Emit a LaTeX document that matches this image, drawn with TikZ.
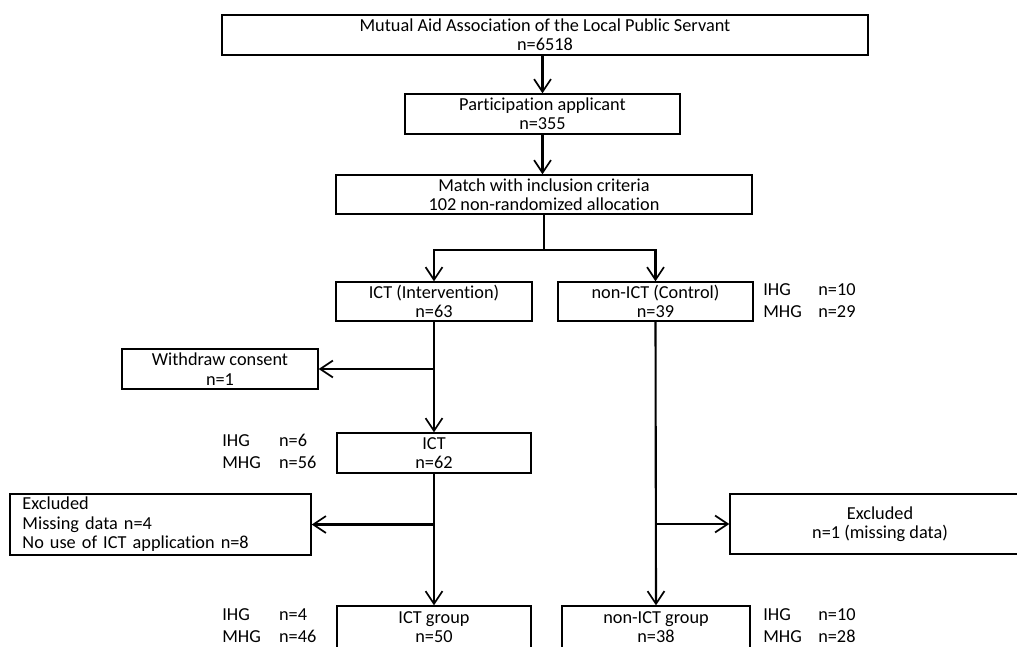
\documentclass[tikz,border=0pt]{standalone}
\usepackage{fontspec}
\setmainfont{Carlito}[RawFeature=-liga]
\usepackage{tikz}
\usetikzlibrary{arrows.meta}
\tikzset{box/.style={draw, line width=1pt, align=center, inner sep=2pt},
 arr/.style={line width=1.5pt, -{Straight Barb[length=9pt,width=12pt,line width=1.2pt]}},
 link/.style={line width=1.5pt},
 side/.style={inner sep=0pt, anchor=west},
 every node/.style={font=\fontsize{13}{13.8}\selectfont},
 }
\renewcommand{\arraystretch}{1.15}

\begin{document}
\begin{tikzpicture}[x=0.025cm,y=-0.025cm]
        \useasboundingbox (0,0) rectangle (1017,646);
        \clip (0,0) rectangle (1017,646);
        \node[box, minimum width=16.15cm, minimum height=1cm] (assoc) at (545,35) {Mutual Aid Association of the Local Public Servant\\n=6518};
        \node[box, minimum width=6.875cm, minimum height=1cm] (applicant) at (542.5,114) {Participation applicant\\n=355};
        \node[box, minimum width=10.4cm, minimum height=0.975cm] (match) at (544,194.5) {Match with inclusion criteria\\102 non-randomized allocation};
        \node[box, minimum width=4.9cm, minimum height=0.975cm] (interv) at (434,301.5) {ICT (Intervention)\\n=63};
        \node[box, minimum width=4.875cm, minimum height=0.975cm] (control) at (655.5,301.5) {non-ICT (Control)\\n=39};
        \node[box, minimum width=4.9cm, minimum height=1cm] (withdraw) at (220,369) {Withdraw consent\\n=1};
        \node[box, minimum width=4.85cm, minimum height=1cm] (ict) at (434,453) {ICT\\n=62};
        \node[box, minimum width=7.525cm, minimum height=1.525cm, align=left, text width=6.9cm] (exclL) at (160.5,524.5) {Excluded\\Missing data n=4\\No use of ICT application n=8};
        \node[box, minimum width=7.5cm, minimum height=1.5cm] (exclR) at (880,524) {Excluded\\n=1 (missing data)};
        \node[box, minimum width=4.85cm, minimum height=1.05cm] (ictgrp) at (434,627) {ICT group\\n=50};
        \node[box, minimum width=4.7cm, minimum height=1.05cm] (ctlgrp) at (656,627) {non-ICT group\\n=38};
        \node[side] (sideC) at (763,302) {\begin{tabular}{@{}l@{\hspace{0.9em}}l@{}}IHG & n=10\\MHG & n=29\end{tabular}};
        \node[side] (sideI) at (222,453) {\begin{tabular}{@{}l@{\hspace{1em}}l@{}}IHG & n=6\\MHG & n=56\end{tabular}};
        \node[side] (sideIG) at (222,627) {\begin{tabular}{@{}l@{\hspace{1em}}l@{}}IHG & n=4\\MHG & n=46\end{tabular}};
        \node[side] (sideCG) at (763,627) {\begin{tabular}{@{}l@{\hspace{0.9em}}l@{}}IHG & n=10\\MHG & n=28\end{tabular}};
        \coordinate (split) at (544,250);
        \draw [arr] (applicant.north |- assoc.south) -- (applicant.north);
        \draw [arr] (applicant.south) -- (applicant.south |- match.north);
        \draw [link] (match.south) -- (split);
        \draw [arr] (split) -| (interv.north);
        \draw [arr] (split) -| (control.north);
        \draw [arr] (interv.south) -- (ict.north);
        \draw [arr] (interv.south |- withdraw.east) -- (withdraw.east);
        \draw [arr] (ict.south) -- (ictgrp.north);
        \draw [arr] (ict.south |- exclL.east) -- (exclL.east);
        \draw [arr] (control.south) -- (ctlgrp.north);
        \draw [arr] (control.south |- exclR.west) -- (exclR.west);
    \end{tikzpicture}
\end{document}
